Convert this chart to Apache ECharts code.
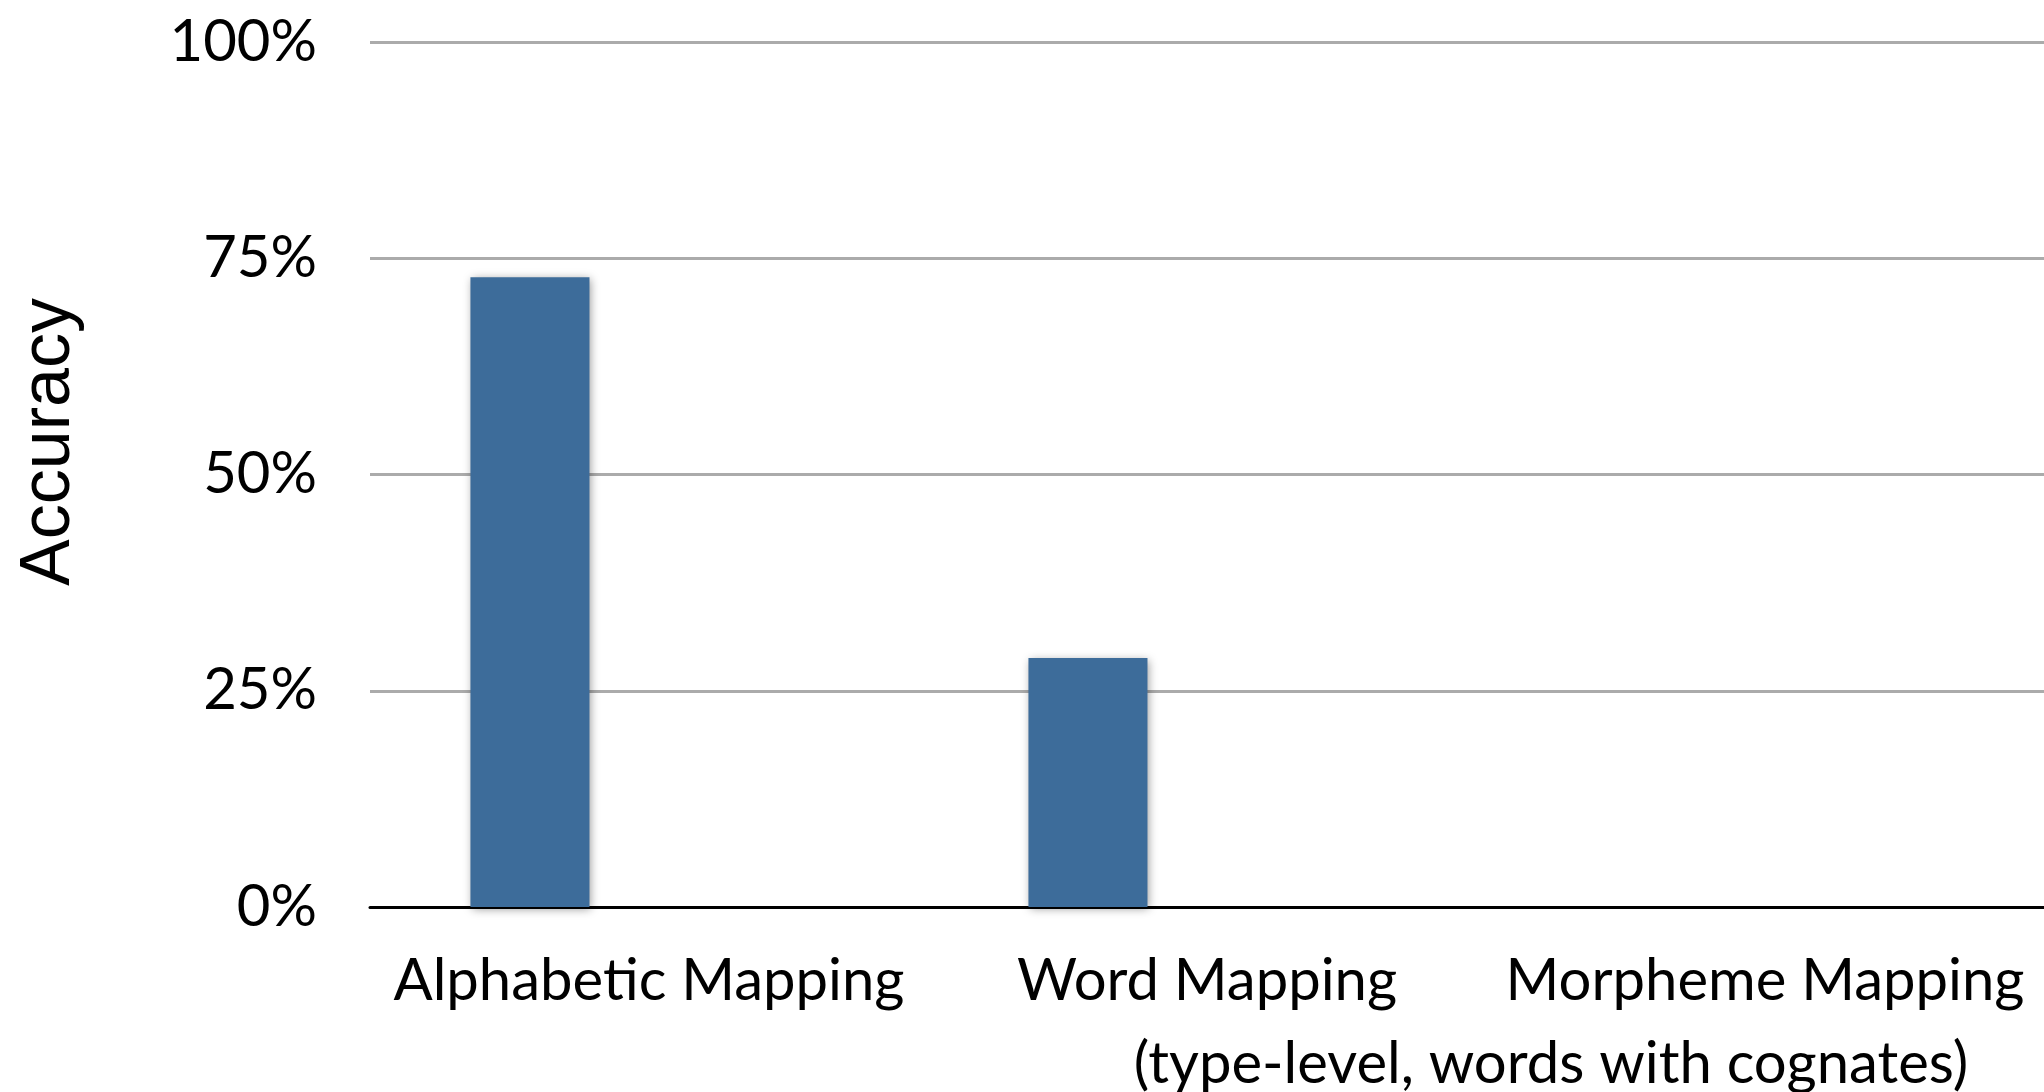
<!DOCTYPE html>
<html>
<head>
<meta charset="utf-8">
<script src="https://cdn.jsdelivr.net/npm/echarts@6/dist/echarts.min.js"></script>
<style>
html,body{margin:0;padding:0;background:#fff;}
#chart{width:2044px;height:1092px;}
</style>
</head>
<body>
<div id="chart"></div>
<script>
const categories = ['Alphabetic Mapping', 'Word Mapping', 'Morpheme Mapping'];
const shownSeries = [72.8, 28.8, null];
const hiddenSeriesB = [null, null, null];
const hiddenSeriesC = [null, null, null];
const yTicks = [0, 25, 50, 75, 100];
const yAxisTitle = 'Accuracy';
const subtitle = '(type-level, words with cognates)';

const FONT = 'Lato';
const chart = echarts.init(document.getElementById('chart'), null, {renderer: 'canvas'});

const barStyle = {
  color: '#3d6c9a',
  shadowColor: 'rgba(0,0,0,0.4)',
  shadowBlur: 9,
  shadowOffsetX: 2,
  shadowOffsetY: 2
};

chart.setOption({
  animation: false,
  backgroundColor: '#ffffff',
  grid: {left: 370, right: -9, top: 42, bottom: 185, containLabel: false},
  xAxis: {
    type: 'category',
    data: categories,
    axisLine: {show: true, lineStyle: {color: '#000', width: 3}},
    axisTick: {show: false},
    axisLabel: {color: '#000', fontFamily: FONT, fontSize: 58, margin: 45, interval: 0}
  },
  yAxis: {
    type: 'value',
    min: yTicks[0],
    max: yTicks[yTicks.length - 1],
    interval: 25,
    axisLine: {show: false},
    axisTick: {show: false},
    splitLine: {lineStyle: {color: '#ababab', width: 3}},
    axisLabel: {color: '#000', fontFamily: FONT, fontSize: 58, margin: 53, formatter: '{value}%'}
  },
  graphic: [
    {
      type: 'text', rotation: Math.PI / 2,
      x: 50, y: 442,
      style: {text: yAxisTitle, font: '70px "Liberation Sans"', fill: '#000',
        textAlign: 'center', textVerticalAlign: 'middle'}
    },
    {
      type: 'text',
      x: 1551, y: 1093,
      style: {text: subtitle, font: '58px Lato', fill: '#000',
        textAlign: 'center', textVerticalAlign: 'bottom'}
    }
  ],
  series: [
    {type: 'bar', name: 'A', data: shownSeries, barGap: '0%', barCategoryGap: '36%', itemStyle: barStyle},
    {type: 'bar', name: 'B', data: hiddenSeriesB, barGap: '0%', barCategoryGap: '36%', itemStyle: barStyle},
    {type: 'bar', name: 'C', data: hiddenSeriesC, barGap: '0%', barCategoryGap: '36%', itemStyle: barStyle}
  ]
});
</script>
</body>
</html>
